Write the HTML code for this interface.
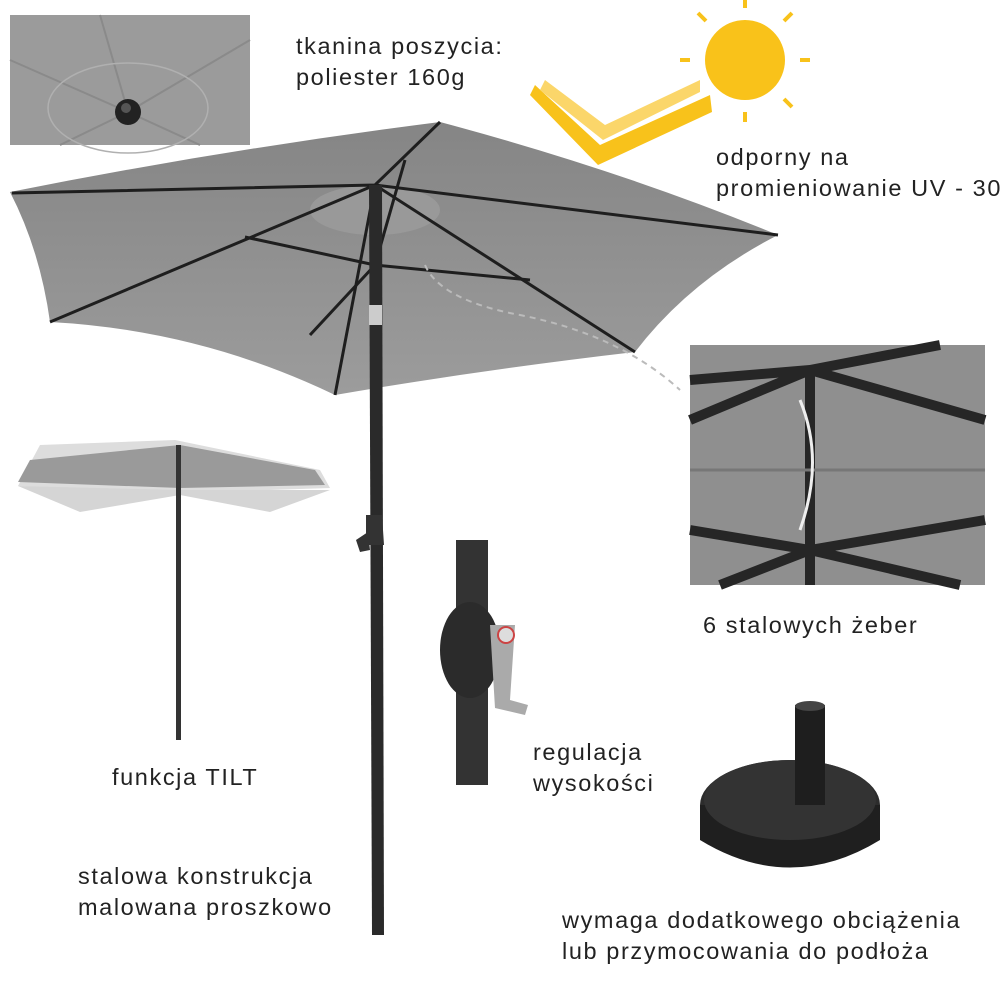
<!DOCTYPE html>
<html><head><meta charset="utf-8"><style>
body{margin:0;background:#fff;width:1000px;height:1000px;overflow:hidden;position:relative;font-family:"Liberation Sans",sans-serif;}
.t{position:absolute;font-size:23.5px;letter-spacing:1.6px;color:#222;line-height:31px;white-space:nowrap;}
svg{position:absolute;left:0;top:0}
</style></head><body>
<svg width="1000" height="1000" viewBox="0 0 1000 1000">
<defs>
<linearGradient id="c" x1="0" y1="0" x2="0" y2="1"><stop offset="0" stop-color="#858585"/><stop offset="1" stop-color="#9c9c9c"/></linearGradient>
</defs>
<rect x="10" y="15" width="240" height="130" fill="#9b9b9b"/>
<path d="M10 60 L128 112 M250 40 L128 112 M60 145 L128 112 M200 145 L128 112 M100 15 L128 112" stroke="#8a8a8a" stroke-width="2"/>
<ellipse cx="128" cy="108" rx="80" ry="45" fill="none" stroke="#b0b0b0" stroke-width="1.5"/>
<circle cx="128" cy="112" r="13" fill="#222"/><circle cx="126" cy="108" r="5" fill="#555"/>
<g stroke="#f8c21b" stroke-width="4" fill="none">
<path d="M745 8 L745 -2 M745 112 L745 122 M690 60 L680 60 M800 60 L810 60 M706 21 L698 13 M784 99 L792 107 M784 21 L792 13 M706 99 L698 107"/>
</g>
<circle cx="745" cy="60" r="40" fill="#f9c21a"/>
<path d="M535 85 L600 145 L710 95 L712 112 L598 165 L530 95 Z" fill="#f8c21b"/>
<path d="M545 80 L605 125 L700 80 L700 92 L603 140 L540 90 Z" fill="#fbd66a"/>
<path d="M10 192 Q220 150 440 122 Q620 170 778 235 Q690 280 635 352 Q480 370 335 395 Q200 330 50 322 Q40 250 10 192 Z" fill="url(#c)"/>
<ellipse cx="375" cy="210" rx="65" ry="25" fill="#999"/>
<g stroke="#1e1e1e" stroke-width="3" fill="none">
<path d="M375 185 L12 193 M375 185 L440 122 M375 185 L778 235 M375 185 L635 352 M375 185 L335 395 M375 185 L50 322"/>
<path d="M375 265 L245 237 M375 265 L405 160 M375 265 L530 280 M375 265 L310 335"/>
</g>
<path d="M425 265 Q440 300 520 315 Q620 335 680 390" stroke="#bbb" stroke-width="2" stroke-dasharray="6 5" fill="none"/>
<path d="M369 185 L382 185 L384 935 L372 935 Z" fill="#2a2a2a"/>
<rect x="369" y="305" width="13" height="20" fill="#ccc"/>
<path d="M366 515 L382 515 L384 545 L366 545 Z M356 540 L368 532 L370 550 L360 552 Z" fill="#333"/>
<rect x="690" y="345" width="295" height="240" fill="#8f8f8f"/>
<g stroke="#262626" stroke-width="10" fill="none">
<path d="M810 370 L690 420 M810 370 L985 420 M810 370 L690 380 M810 370 L940 345 M810 370 L810 585"/>
<path d="M810 550 L690 530 M810 550 L985 520 M810 550 L720 585 M810 550 L960 585"/>
<path d="M690 470 L985 470" stroke="#777" stroke-width="3"/>
</g>
<path d="M800 400 Q825 460 800 530" stroke="#eee" stroke-width="3" fill="none"/>
<path d="M40 445 L175 440 L320 470 L330 488 L180 493 L18 486 Z" fill="#ddd"/>
<path d="M30 460 L180 445 L315 470 L325 485 L180 488 L18 482 Z" fill="#9a9a9a"/>
<path d="M18 486 L180 490 L330 490 L270 512 L180 495 L80 512 Z" fill="#d5d5d5"/>
<rect x="176" y="445" width="5" height="295" fill="#333"/>
<rect x="456" y="540" width="32" height="245" fill="#333"/>
<ellipse cx="470" cy="650" rx="30" ry="48" fill="#2b2b2b"/>
<path d="M490 625 L515 625 L510 700 L528 705 L525 715 L495 708 Z" fill="#aaa"/>
<circle cx="506" cy="635" r="8" fill="#ddd" stroke="#c44" stroke-width="2"/>
<ellipse cx="790" cy="805" rx="90" ry="45" fill="#2c2c2c"/>
<path d="M700 805 L700 840 Q790 895 880 840 L880 805 Z" fill="#1f1f1f"/>
<ellipse cx="790" cy="800" rx="86" ry="40" fill="#333"/>
<rect x="795" y="705" width="30" height="100" fill="#1e1e1e"/>
<ellipse cx="810" cy="706" rx="15" ry="5" fill="#444"/>
</svg>
<div class="t" style="left:296px;top:31px">tkanina poszycia:<br>poliester 160g</div>
<div class="t" style="left:716px;top:142px">odporny na<br>promieniowanie UV - 30</div>
<div class="t" style="left:703px;top:610px">6 stalowych żeber</div>
<div class="t" style="left:112px;top:762px">funkcja TILT</div>
<div class="t" style="left:533px;top:737px">regulacja<br>wysokości</div>
<div class="t" style="left:78px;top:861px">stalowa konstrukcja<br>malowana proszkowo</div>
<div class="t" style="left:562px;top:905px">wymaga dodatkowego obciążenia<br>lub przymocowania do podłoża</div>
</body></html>
